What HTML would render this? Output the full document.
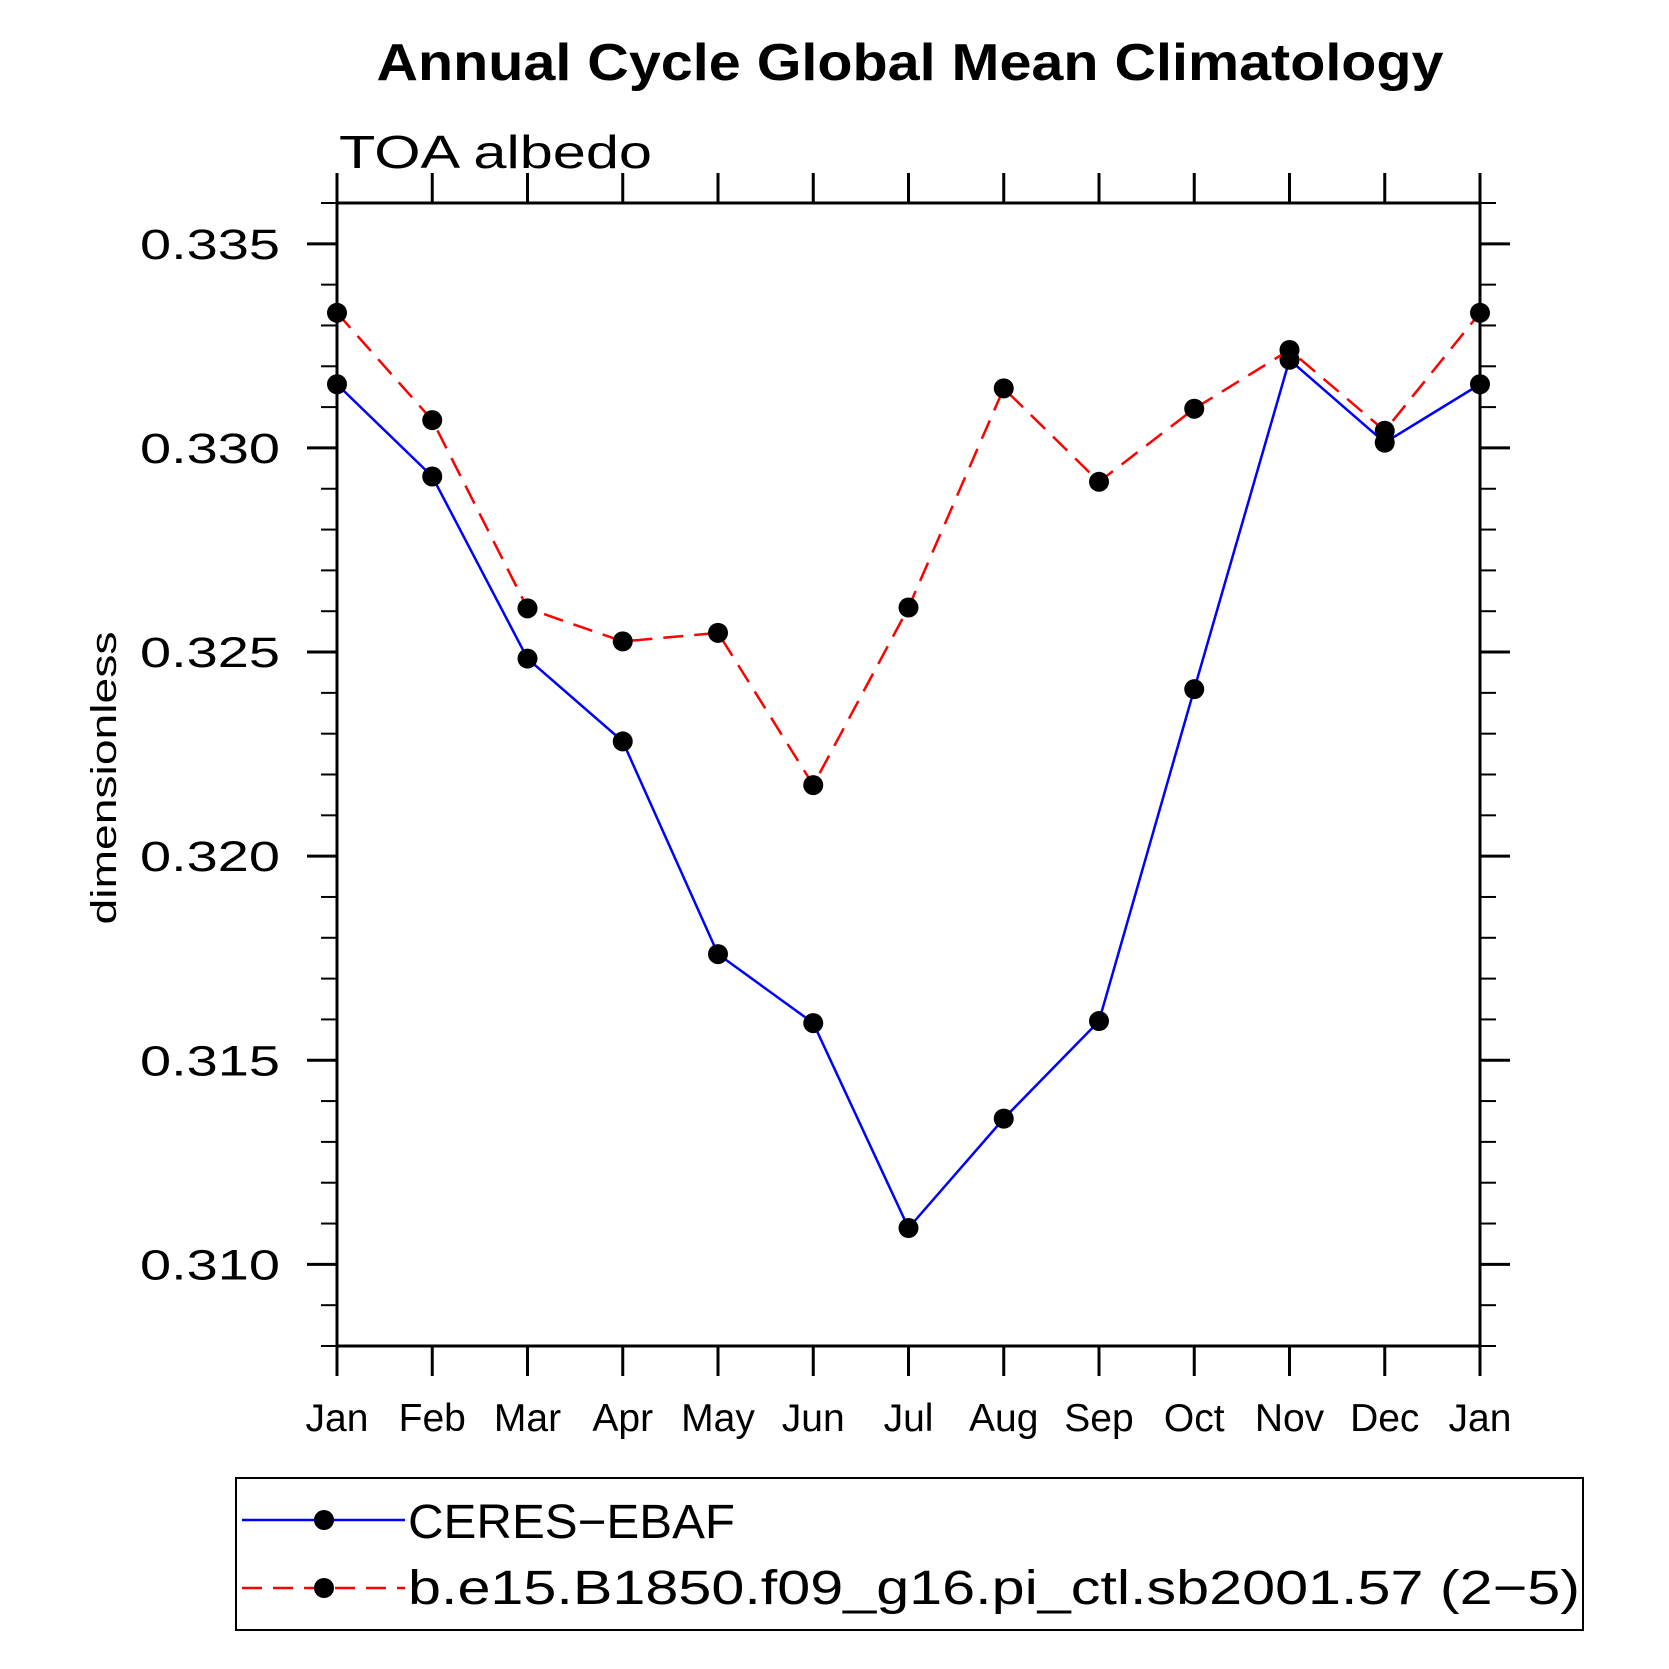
<!DOCTYPE html>
<html><head><meta charset="utf-8"><style>html,body{margin:0;padding:0;background:#fff}svg{display:block}text{font-family:"Liberation Sans",sans-serif}</style></head>
<body>
<svg id="chart" width="1669" height="1669" viewBox="0 0 1669 1669" xmlns="http://www.w3.org/2000/svg">
<text x="910" y="80" font-size="52" font-weight="bold" text-anchor="middle" textLength="1067" lengthAdjust="spacingAndGlyphs">Annual Cycle Global Mean Climatology</text>
<text x="339" y="168" font-size="46" textLength="313" lengthAdjust="spacingAndGlyphs">TOA albedo</text>
<text x="0" y="0" font-size="36" text-anchor="middle" transform="translate(116,778) rotate(-90)" textLength="293" lengthAdjust="spacingAndGlyphs">dimensionless</text>
<g id="ticks"></g>
<g id="series"></g>
<rect x="337" y="203" width="1143" height="1143" fill="none" stroke="#000" stroke-width="3"/>
<g>
<rect x="236" y="1478" width="1347" height="152" fill="none" stroke="#000" stroke-width="2"/>
<line x1="242" y1="1520" x2="405" y2="1520" stroke="#0000ff" stroke-width="2.5"/>
<circle cx="324" cy="1520" r="10" fill="#000"/>
<text x="408" y="1538" font-size="48" textLength="327" lengthAdjust="spacingAndGlyphs">CERES−EBAF</text>
<line x1="242" y1="1588" x2="405" y2="1588" stroke="#ff0000" stroke-width="2.5" stroke-dasharray="20,11"/>
<circle cx="324" cy="1588" r="10" fill="#000"/>
<text x="408" y="1604" font-size="48" textLength="1172" lengthAdjust="spacingAndGlyphs">b.e15.B1850.f09_g16.pi_ctl.sb2001.57 (2−5)</text>
</g>
</svg>
<script>
const months = ["Jan","Feb","Mar","Apr","May","Jun","Jul","Aug","Sep","Oct","Nov","Dec","Jan"];
const ceres = [0.33156,0.32930,0.32484,0.32281,0.31760,0.31591,0.31089,0.31357,0.31596,0.32409,0.33216,0.33013,0.33156];
const model = [0.33331,0.33068,0.32607,0.32526,0.32547,0.32174,0.32609,0.33146,0.32917,0.33096,0.33240,0.33042,0.33331];
const yTicks = [0.310,0.315,0.320,0.325,0.330,0.335];
const yTickLabels = ["0.310","0.315","0.320","0.325","0.330","0.335"];
const yMin = 0.308, yMax = 0.336;
const L=337,R=1480,T=203,B=1346;
const NS="http://www.w3.org/2000/svg";
function xs(i){return L+(R-L)*i/(months.length-1);}
function ys(v){return B-(B-T)*(v-yMin)/(yMax-yMin);}
function mk(tag,attrs,parent){const e=document.createElementNS(NS,tag);for(const k in attrs)e.setAttribute(k,attrs[k]);parent.appendChild(e);return e;}
const tg=document.getElementById('ticks');
for(let k=0;k<=Math.round((yMax-yMin)*1000);k++){
  const v=yMin+k*0.001, y=ys(v);
  const l1=mk('line',{x1:L-16,x2:L,y1:y,y2:y,stroke:'#000','stroke-width':2},tg);
  
  
  const l2=mk('line',{x1:R,x2:R+16,y1:y,y2:y,stroke:'#000','stroke-width':2},tg);
  
  
}
yTicks.forEach((v,i)=>{
  const y=ys(v);
  const l1=mk('line',{x1:L-30,x2:L,y1:y,y2:y,stroke:'#000','stroke-width':3},tg);
  
  
  const l2=mk('line',{x1:R,x2:R+30,y1:y,y2:y,stroke:'#000','stroke-width':3},tg);
  
  
  const t=mk('text',{x:280,y:y+15,'font-size':43,'text-anchor':'end',textLength:140,lengthAdjust:'spacingAndGlyphs'},tg);
  t.textContent=yTickLabels[i];
  
  
});
months.forEach((m,i)=>{
  const x=xs(i);
  const a=mk('line',{x1:x,x2:x,y1:B,y2:B+30,stroke:'#000','stroke-width':3},tg);
  
  
  const b=mk('line',{x1:x,x2:x,y1:T-30,y2:T,stroke:'#000','stroke-width':3},tg);
  
  
  const t=mk('text',{x:x,y:1431,'font-size':39,'text-anchor':'middle'},tg);
  t.textContent=m;
  
  
});
const sg=document.getElementById('series');
function drawSeries(vals,color,dash,name){
  const pts=vals.map((v,i)=>xs(i)+','+ys(v)).join(' ');
  const p=mk('polyline',{points:pts,fill:'none',stroke:color,'stroke-width':2.5},sg);
  if(dash)p.setAttribute('stroke-dasharray',dash);
  
  
  vals.forEach((v,i)=>{
    const c=mk('circle',{cx:xs(i),cy:ys(v),r:10,fill:'#000'},sg);
    
    
  });
}
drawSeries(ceres,'#0000ff',null,'ceres-ebaf');
drawSeries(model,'#ff0000','20,11','model');
</script>
</body></html>
